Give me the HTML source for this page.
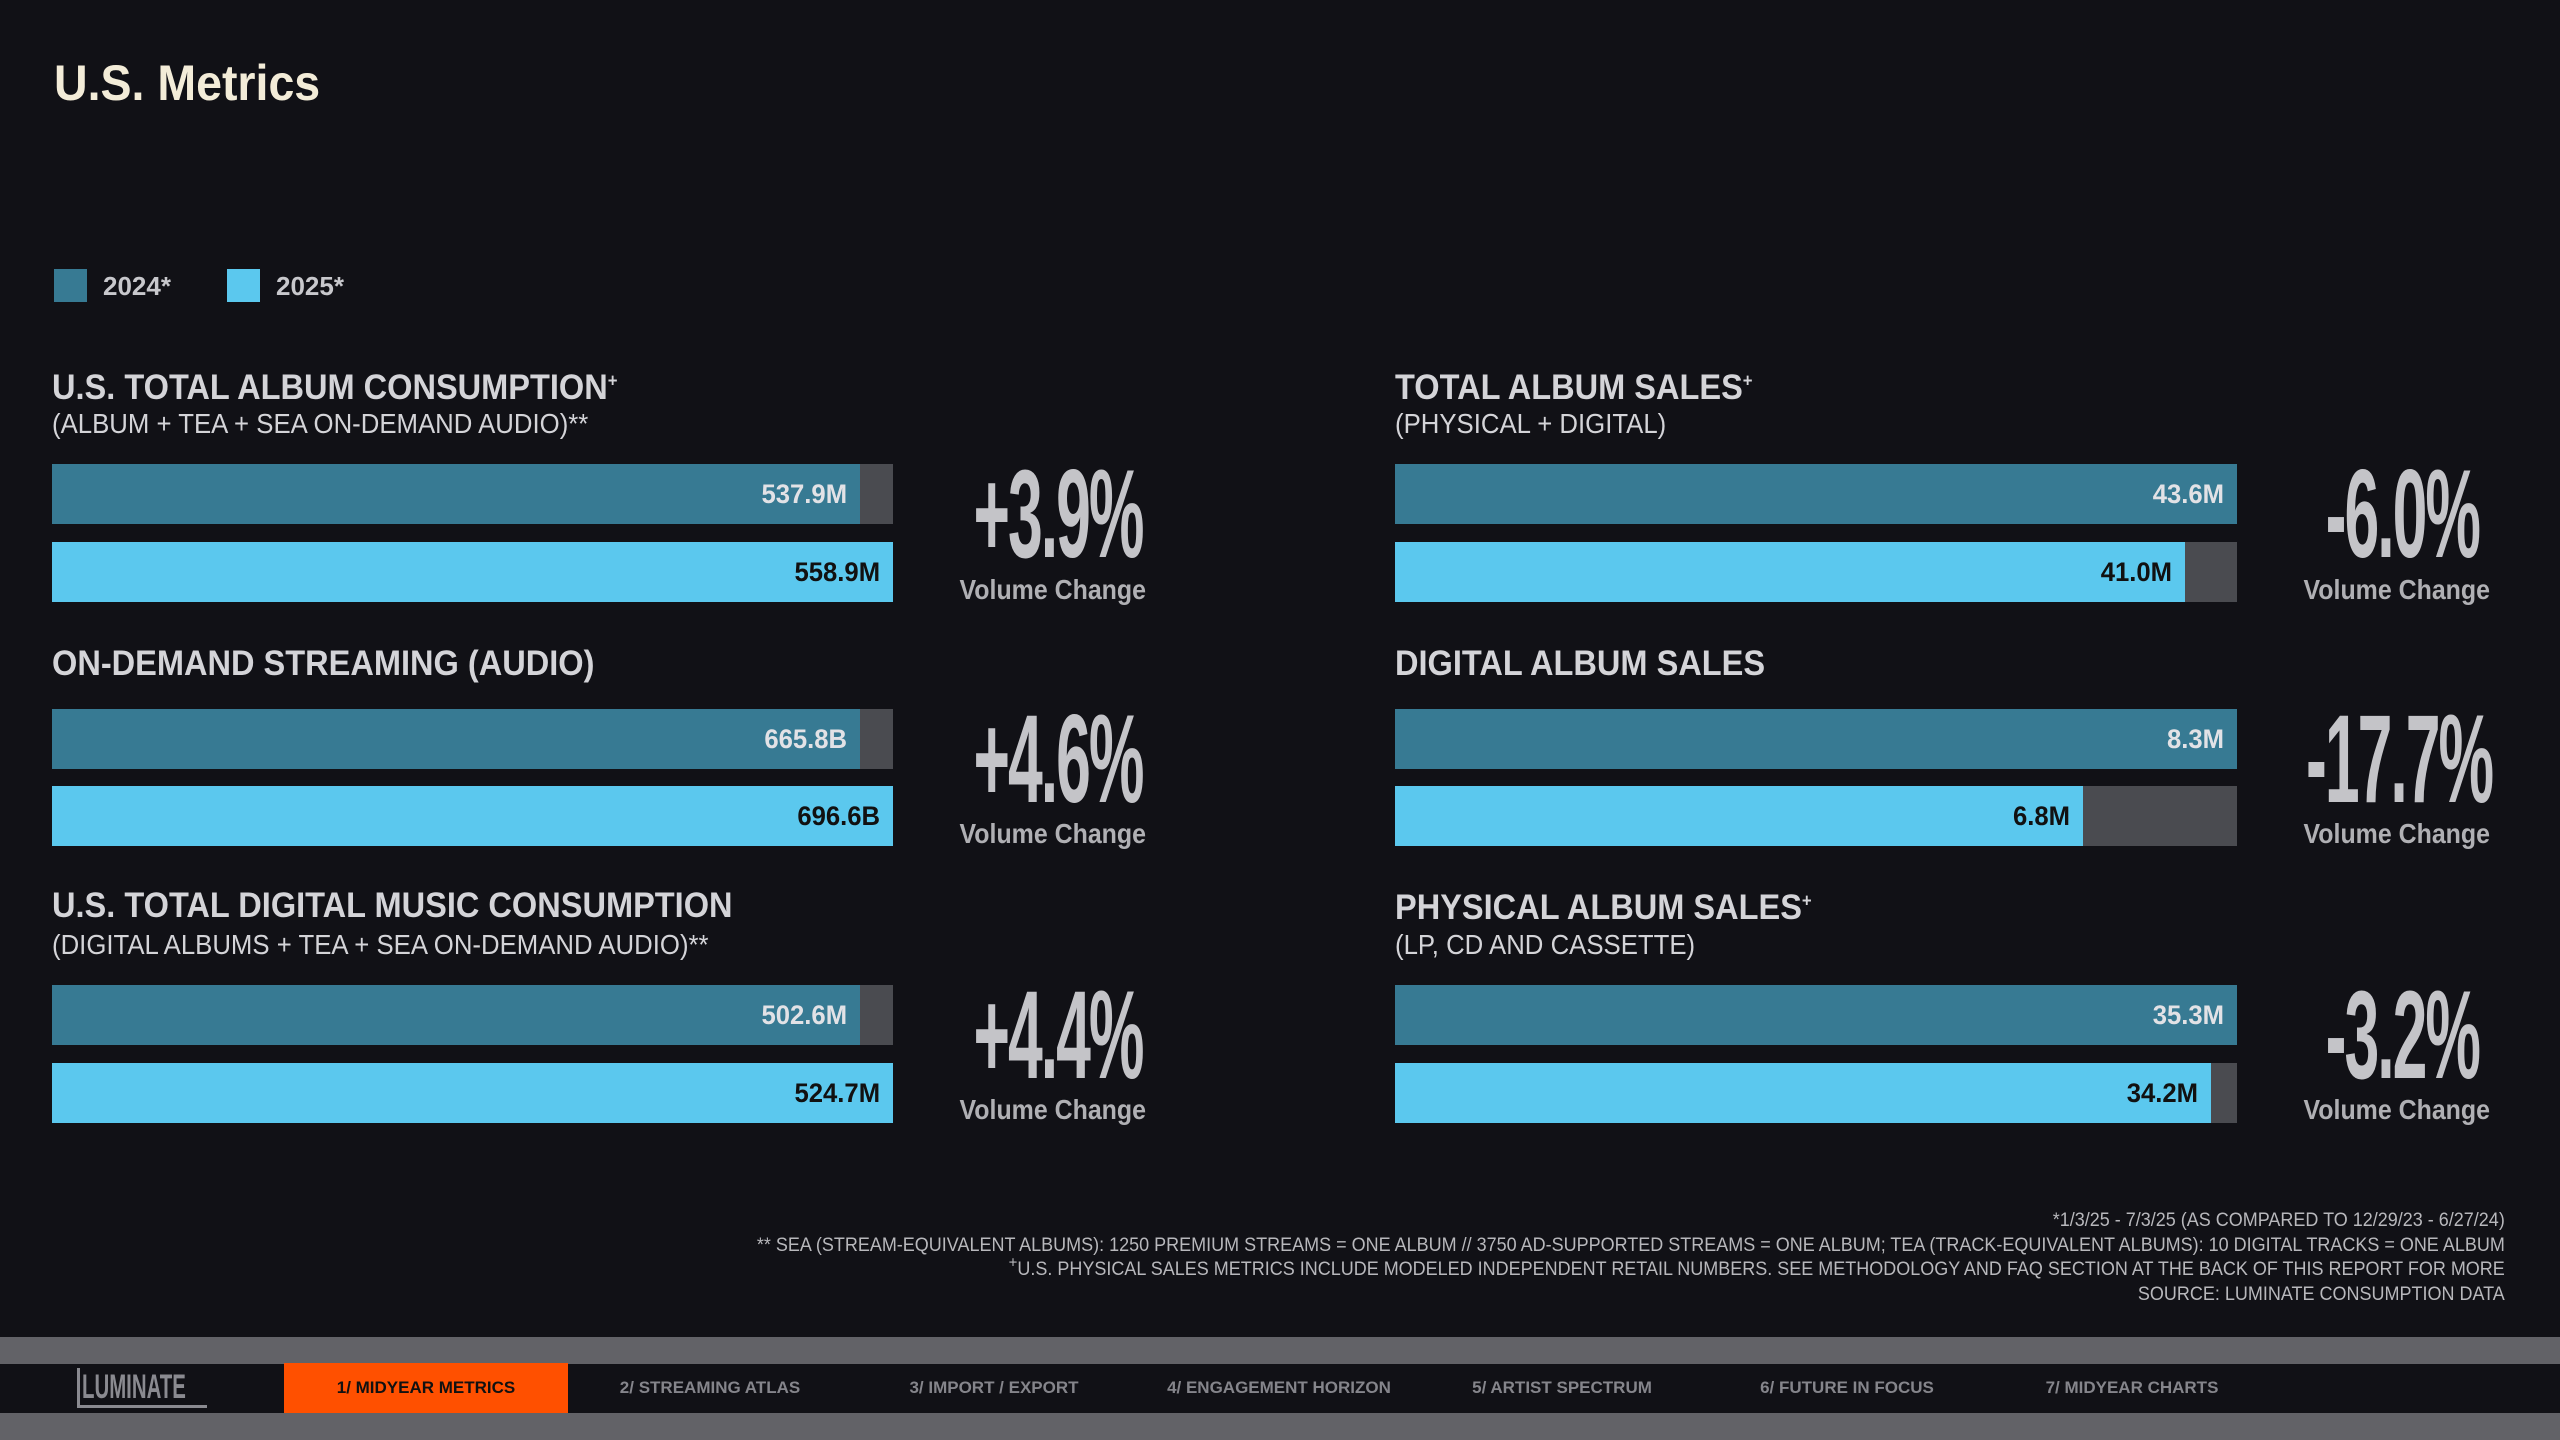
<!DOCTYPE html>
<html><head><meta charset="utf-8"><style>
*{margin:0;padding:0;box-sizing:border-box}
body{width:2560px;height:1440px;background:#111116;position:relative;overflow:hidden;font-family:"Liberation Sans",sans-serif;font-weight:bold}
sup{line-height:0;vertical-align:super}
.a{position:absolute;white-space:nowrap}
.sx{display:inline-block;transform-origin:left center}
.t{color:#d4d4d8;font-size:35px;line-height:35px}
.s{color:#d4d4d8;font-size:28px;line-height:28px;font-weight:normal}
.bar{position:absolute;height:60px;background:#4a4b50}
.f{position:absolute;left:0;top:0;height:100%;}
.f1{background:#377a93}.f2{background:#5bc8ee}
.lb{position:absolute;right:13px;top:0;line-height:60px;font-size:27px;transform:scaleX(.95);transform-origin:right center}
.f1 .lb{color:#e2e2e6}.f2 .lb{color:#111}
.pc{position:absolute;font-size:125px;line-height:125px;color:#c4c4c8;text-align:center;width:400px}
.pc span{display:inline-block;transform:scaleX(.5);letter-spacing:-4px}
.vc{position:absolute;font-size:28px;line-height:28px;color:#b0b0b4;text-align:center;width:300px}
.vc span{display:inline-block;transform:scaleX(.89)}
.ft{position:absolute;right:55px;top:1209px;text-align:right;color:#b8b8bc;font-size:19px;line-height:24.6px;font-weight:normal;transform:scaleX(.947);transform-origin:right top;white-space:nowrap}
.nav{position:absolute;top:1363px;height:50px;line-height:50px;font-size:17px;color:#85858b;text-align:center;width:284px}
.nav span{display:inline-block;transform:scaleX(1)}
</style></head><body>
<div class="a" style="left:54px;top:58px;font-size:50px;line-height:50px;color:#f3ecd8"><span class="sx" style="transform:scaleX(.93)">U.S. Metrics</span></div>
<div class="a" style="left:54px;top:269px;width:33px;height:33px;background:#377a93"></div>
<div class="a" style="left:103px;top:272px;font-size:26px;line-height:28px;color:#c8c8cc">2024*</div>
<div class="a" style="left:227px;top:269px;width:33px;height:33px;background:#5bc8ee"></div>
<div class="a" style="left:276px;top:272px;font-size:26px;line-height:28px;color:#c8c8cc">2025*</div>

<div class="a t" style="left:52px;top:370px"><span class="sx" style="transform:scaleX(.93)">U.S. TOTAL ALBUM CONSUMPTION<sup style="font-size:18px">+</sup></span></div>
<div class="a s" style="left:52px;top:410px"><span class="sx" style="transform:scaleX(.92)">(ALBUM + TEA + SEA ON-DEMAND AUDIO)**</span></div>
<div class="a t" style="left:52px;top:646px"><span class="sx" style="transform:scaleX(.93)">ON-DEMAND STREAMING (AUDIO)</span></div>
<div class="a t" style="left:52px;top:888px"><span class="sx" style="transform:scaleX(.93)">U.S. TOTAL DIGITAL MUSIC CONSUMPTION</span></div>
<div class="a s" style="left:52px;top:931px"><span class="sx" style="transform:scaleX(.92)">(DIGITAL ALBUMS + TEA + SEA ON-DEMAND AUDIO)**</span></div>
<div class="a t" style="left:1395px;top:370px"><span class="sx" style="transform:scaleX(.93)">TOTAL ALBUM SALES<sup style="font-size:18px">+</sup></span></div>
<div class="a s" style="left:1395px;top:410px"><span class="sx" style="transform:scaleX(.92)">(PHYSICAL + DIGITAL)</span></div>
<div class="a t" style="left:1395px;top:646px"><span class="sx" style="transform:scaleX(.93)">DIGITAL ALBUM SALES</span></div>
<div class="a t" style="left:1395px;top:890px"><span class="sx" style="transform:scaleX(.93)">PHYSICAL ALBUM SALES<sup style="font-size:18px">+</sup></span></div>
<div class="a s" style="left:1395px;top:931px"><span class="sx" style="transform:scaleX(.92)">(LP, CD AND CASSETTE)</span></div>

<div class="bar" style="left:52px;top:464px;width:841px"><div class="f f1" style="width:808px"><div class="lb">537.9M</div></div></div>
<div class="bar" style="left:52px;top:542px;width:841px"><div class="f f2" style="width:841px"><div class="lb">558.9M</div></div></div>
<div class="bar" style="left:52px;top:709px;width:841px"><div class="f f1" style="width:808px"><div class="lb">665.8B</div></div></div>
<div class="bar" style="left:52px;top:786px;width:841px"><div class="f f2" style="width:841px"><div class="lb">696.6B</div></div></div>
<div class="bar" style="left:52px;top:985px;width:841px"><div class="f f1" style="width:808px"><div class="lb">502.6M</div></div></div>
<div class="bar" style="left:52px;top:1063px;width:841px"><div class="f f2" style="width:841px"><div class="lb">524.7M</div></div></div>
<div class="bar" style="left:1395px;top:464px;width:842px"><div class="f f1" style="width:842px"><div class="lb">43.6M</div></div></div>
<div class="bar" style="left:1395px;top:542px;width:842px"><div class="f f2" style="width:790px"><div class="lb">41.0M</div></div></div>
<div class="bar" style="left:1395px;top:709px;width:842px"><div class="f f1" style="width:842px"><div class="lb">8.3M</div></div></div>
<div class="bar" style="left:1395px;top:786px;width:842px"><div class="f f2" style="width:688px"><div class="lb">6.8M</div></div></div>
<div class="bar" style="left:1395px;top:985px;width:842px"><div class="f f1" style="width:842px"><div class="lb">35.3M</div></div></div>
<div class="bar" style="left:1395px;top:1063px;width:842px"><div class="f f2" style="width:816px"><div class="lb">34.2M</div></div></div>

<div class="pc" style="left:858px;top:452px"><span>+3.9%</span></div>
<div class="vc" style="left:903px;top:576px"><span>Volume Change</span></div>
<div class="pc" style="left:858px;top:697px"><span>+4.6%</span></div>
<div class="vc" style="left:903px;top:820px"><span>Volume Change</span></div>
<div class="pc" style="left:858px;top:973px"><span>+4.4%</span></div>
<div class="vc" style="left:903px;top:1096px"><span>Volume Change</span></div>
<div class="pc" style="left:2202px;top:452px"><span>-6.0%</span></div>
<div class="vc" style="left:2247px;top:576px"><span>Volume Change</span></div>
<div class="pc" style="left:2199px;top:697px"><span>-17.7%</span></div>
<div class="vc" style="left:2247px;top:820px"><span>Volume Change</span></div>
<div class="pc" style="left:2202px;top:973px"><span>-3.2%</span></div>
<div class="vc" style="left:2247px;top:1096px"><span>Volume Change</span></div>

<div class="ft">*1/3/25 - 7/3/25 (AS COMPARED TO 12/29/23 - 6/27/24)<br>** SEA (STREAM-EQUIVALENT ALBUMS): 1250 PREMIUM STREAMS = ONE ALBUM // 3750 AD-SUPPORTED STREAMS = ONE ALBUM; TEA (TRACK-EQUIVALENT ALBUMS): 10 DIGITAL TRACKS = ONE ALBUM<br><sup>+</sup>U.S. PHYSICAL SALES METRICS INCLUDE MODELED INDEPENDENT RETAIL NUMBERS. SEE METHODOLOGY AND FAQ SECTION AT THE BACK OF THIS REPORT FOR MORE<br>SOURCE: LUMINATE CONSUMPTION DATA</div>

<div class="a" style="left:0;top:1337px;width:2560px;height:103px;background:#626267"></div>
<div class="a" style="left:0;top:1364px;width:2560px;height:49px;background:#111116"></div>
<div class="a" style="left:77px;top:1368px;width:130px;height:40px;border-left:3px solid #8a8a90;border-bottom:3px solid #8a8a90;color:#8a8a90;font-size:34px;line-height:38px;padding-left:2px"><span class="sx" style="transform:scaleX(.6)">LUMINATE</span></div>
<div class="a" style="left:284px;top:1363px;width:284px;height:50px;background:#ff5000"></div>
<div class="nav" style="left:284px;color:#111"><span>1/ MIDYEAR METRICS</span></div>
<div class="nav" style="left:568px"><span>2/ STREAMING ATLAS</span></div>
<div class="nav" style="left:852px"><span>3/ IMPORT / EXPORT</span></div>
<div class="nav" style="left:1137px"><span>4/ ENGAGEMENT HORIZON</span></div>
<div class="nav" style="left:1420px"><span>5/ ARTIST SPECTRUM</span></div>
<div class="nav" style="left:1705px"><span>6/ FUTURE IN FOCUS</span></div>
<div class="nav" style="left:1990px"><span>7/ MIDYEAR CHARTS</span></div>
</body></html>
